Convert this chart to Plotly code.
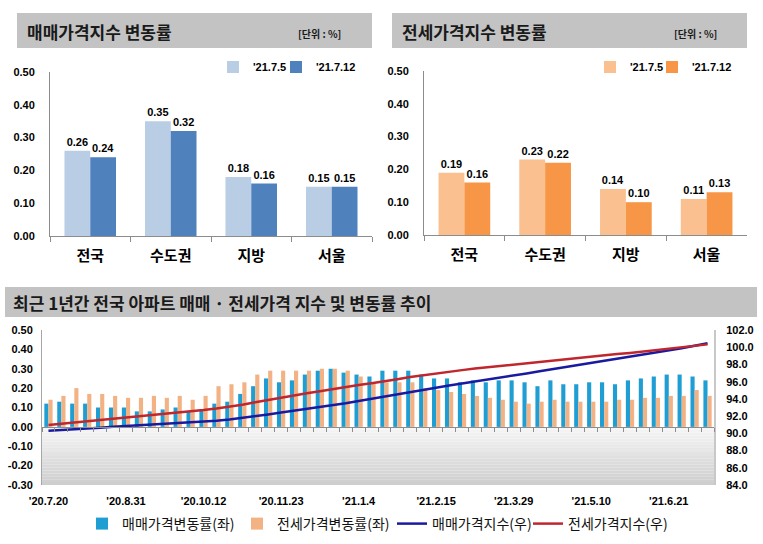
import plotly.graph_objects as go

# ---------------- data ----------------
regions = ["전국", "수도권", "지방", "서울"]
week_prev_label = "'21.7.5"
week_curr_label = "'21.7.12"
sale_prev = [0.26, 0.35, 0.18, 0.15]
sale_curr = [0.24, 0.32, 0.16, 0.15]
jeonse_prev = [0.19, 0.23, 0.14, 0.11]
jeonse_curr = [0.16, 0.22, 0.10, 0.13]

top_ticks = [0.0, 0.1, 0.2, 0.3, 0.4, 0.5]
top_tick_text = ["0.00", "0.10", "0.20", "0.30", "0.40", "0.50"]

weekly_sale_rate = [
    0.12, 0.13, 0.12, 0.12, 0.10, 0.10, 0.10, 0.08, 0.08, 0.09, 0.10, 0.08, 0.09,
    0.12, 0.13, 0.17, 0.21, 0.25, 0.23, 0.24, 0.27, 0.29, 0.30, 0.28, 0.27, 0.26,
    0.29, 0.29, 0.29, 0.27, 0.25, 0.25, 0.23, 0.24, 0.23, 0.24, 0.24, 0.23, 0.21,
    0.24, 0.22, 0.22, 0.23, 0.23, 0.22, 0.24, 0.25, 0.26, 0.27, 0.27, 0.26, 0.24,
]
weekly_jeonse_rate = [
    0.14, 0.16, 0.20, 0.17, 0.17, 0.16, 0.15, 0.15, 0.16, 0.15, 0.16, 0.14, 0.16,
    0.21, 0.22, 0.23, 0.27, 0.29, 0.29, 0.29, 0.29, 0.30, 0.30, 0.29, 0.26, 0.23,
    0.23, 0.23, 0.23, 0.20, 0.19, 0.18, 0.17, 0.16, 0.15, 0.14, 0.13, 0.12, 0.13,
    0.14, 0.13, 0.13, 0.13, 0.13, 0.14, 0.14, 0.15, 0.15, 0.16, 0.16, 0.19, 0.16,
]
sale_index = [
    90.29, 90.36, 90.44, 90.55, 90.66, 90.76, 90.84, 90.92, 91.00, 91.08, 91.16, 91.24, 91.34,
    91.46, 91.60, 91.78, 91.98, 92.20, 92.42, 92.62, 92.82, 93.02, 93.26, 93.50, 93.76, 94.02,
    94.28, 94.56, 94.84, 95.10, 95.34, 95.56, 95.78, 96.00, 96.22, 96.48, 96.74, 96.96, 97.20,
    97.44, 97.66, 97.90, 98.14, 98.38, 98.60, 98.84, 99.08, 99.34, 99.60, 99.88, 100.16, 100.45,
]
jeonse_index = [
    90.98, 91.12, 91.27, 91.42, 91.56, 91.68, 91.80, 91.94, 92.10, 92.24, 92.40, 92.55, 92.70,
    92.88, 93.08, 93.32, 93.60, 93.88, 94.16, 94.44, 94.66, 94.88, 95.14, 95.40, 95.62, 95.82,
    96.02, 96.28, 96.54, 96.76, 96.96, 97.16, 97.34, 97.52, 97.68, 97.84, 97.98, 98.12, 98.28,
    98.44, 98.60, 98.76, 98.92, 99.06, 99.20, 99.34, 99.50, 99.66, 99.82, 99.98, 100.16, 100.33,
]
week_tick_pos = [0, 6, 12, 18, 24, 30, 36, 42, 48]
week_tick_labels = ["'20.7.20", "'20.8.31", "'20.10.12", "'20.11.23", "'21.1.4",
                    "'21.2.15", "'21.3.29", "'21.5.10", "'21.6.21"]
left_ticks = [-0.3, -0.2, -0.1, 0.0, 0.1, 0.2, 0.3, 0.4, 0.5]
left_tick_text = ["-0.30", "-0.20", "-0.10", "0.00", "0.10", "0.20", "0.30", "0.40", "0.50"]
right_ticks = [84, 86, 88, 90, 92, 94, 96, 98, 100, 102]
right_tick_text = ["84.0", "86.0", "88.0", "90.0", "92.0", "94.0", "96.0", "98.0", "100.0", "102.0"]

# ---------------- helpers ----------------
W, H = 763, 544
def px(x): return x / W
def py(y): return 1 - y / H

KR = "Noto Sans CJK KR"
NUM = "Liberation Sans, Arial, sans-serif"
AXC = "#8c8c8c"
weeks = list(range(len(weekly_sale_rate)))

fig = go.Figure()

# top-left: sale rate
for vals, name, col, lw in [(sale_prev, week_prev_label, "#b9cde5", 18),
                            (sale_curr, week_curr_label, "#4f81bd", None)]:
    fig.add_trace(go.Bar(
        x=regions, y=vals, name=name, marker=dict(color=col, line=dict(width=0)),
        xaxis="x", yaxis="y", legend="legend", legendwidth=lw,
        texttemplate="%{y:.2f}", textposition="outside", cliponaxis=False,
        textfont=dict(family=NUM, size=11, color="#000", weight="bold"),
    ))
# top-right: jeonse rate
for vals, name, col, lw in [(jeonse_prev, week_prev_label, "#fac090", 17),
                            (jeonse_curr, week_curr_label, "#f79646", None)]:
    fig.add_trace(go.Bar(
        x=regions, y=vals, name=name, marker=dict(color=col, line=dict(width=0)),
        xaxis="x2", yaxis="y2", legend="legend2", legendwidth=lw,
        texttemplate="%{y:.2f}", textposition="outside", cliponaxis=False,
        textfont=dict(family=NUM, size=11, color="#000", weight="bold"),
    ))

# bottom chart
fig.add_trace(go.Bar(x=weeks, y=weekly_sale_rate, name="매매가격변동률(좌)",
                     marker=dict(color="#1f9ed3", line=dict(width=0)),
                     xaxis="x3", yaxis="y3", legend="legend3", legendwidth=110))
fig.add_trace(go.Bar(x=weeks, y=weekly_jeonse_rate, name="전세가격변동률(좌)",
                     marker=dict(color="#f3b283", line=dict(width=0)),
                     xaxis="x3", yaxis="y3", legend="legend3", legendwidth=110))
fig.add_trace(go.Scatter(x=weeks, y=sale_index, name="매매가격지수(우)", mode="lines",
                         line=dict(color="#1a1aa0", width=2.5),
                         xaxis="x3", yaxis="y4", legend="legend3", legendwidth=91))
fig.add_trace(go.Scatter(x=weeks, y=jeonse_index, name="전세가격지수(우)", mode="lines",
                         line=dict(color="#c0262d", width=2.5),
                         xaxis="x3", yaxis="y4", legend="legend3"))
# empty helper trace so the zero-line tick axis exists
fig.add_trace(go.Scatter(x=[], y=[], xaxis="x4", yaxis="y3", showlegend=False, hoverinfo="skip"))

# ---------------- layout ----------------
y3_dom = [py(485), py(330)]
zero_pos = y3_dom[0] + (0 - (-0.3)) / 0.8 * (y3_dom[1] - y3_dom[0])

numfont = dict(family=NUM, size=11, color="#000", weight="bold")
catfont = dict(family=KR, size=15, color="#000", weight="bold")

fig.update_layout(
    width=W, height=H, margin=dict(l=0, r=0, t=0, b=0, autoexpand=False),
    paper_bgcolor="white", plot_bgcolor="white",
    barmode="group", bargap=0.36, bargroupgap=0,
    showlegend=True,
    xaxis=dict(domain=[px(50), px(372)], anchor="y", type="category", automargin=False,
               showline=True, linecolor=AXC, ticks="outside", ticklen=5, tickcolor=AXC,
               tickson="boundaries", tickfont=catfont, ticklabelstandoff=6),
    yaxis=dict(domain=[py(236), py(72)], anchor="x", range=[0, 0.5], automargin=False,
               tickmode="array", tickvals=top_ticks, ticktext=top_tick_text,
               showline=True, linecolor=AXC, showgrid=False, zeroline=False,
               tickfont=numfont, ticklabelstandoff=12),
    xaxis2=dict(domain=[px(424), px(747)], anchor="y2", type="category", automargin=False,
                showline=True, linecolor=AXC, ticks="outside", ticklen=5, tickcolor=AXC,
                tickson="boundaries", tickfont=catfont, ticklabelstandoff=6),
    yaxis2=dict(domain=[py(235), py(71)], anchor="x2", range=[0, 0.5], automargin=False,
                tickmode="array", tickvals=top_ticks, ticktext=top_tick_text,
                showline=True, linecolor=AXC, showgrid=False, zeroline=False,
                tickfont=numfont, ticklabelstandoff=12),
    xaxis3=dict(domain=[px(42), px(714)], anchor="y3", range=[-0.5, len(weeks) - 0.5],
                automargin=False,
                tickmode="array", tickvals=week_tick_pos, ticktext=week_tick_labels,
                showline=False, showgrid=False, zeroline=False, ticks="",
                tickfont=numfont, ticklabelstandoff=8),
    xaxis4=dict(overlaying="x3", anchor="free", position=zero_pos, side="bottom",
                range=[-0.5, len(weeks) - 0.5], automargin=False,
                tickmode="array", tickvals=[i - 0.5 for i in range(len(weeks) + 1)],
                showticklabels=False, ticks="outside", ticklen=4, tickcolor=AXC,
                showline=True, linecolor=AXC, showgrid=False, zeroline=False),
    yaxis3=dict(domain=y3_dom, anchor="x3", range=[-0.3, 0.5], automargin=False,
                tickmode="array", tickvals=left_ticks, ticktext=left_tick_text,
                showline=True, linecolor="#a6a6a6", showgrid=False, zeroline=False,
                tickfont=numfont, ticklabelstandoff=6),
    yaxis4=dict(overlaying="y3", anchor="x3", side="right", range=[84, 102], automargin=False,
                tickmode="array", tickvals=right_ticks, ticktext=right_tick_text,
                showline=True, linecolor="#c8c8c8", linewidth=2, showgrid=False, zeroline=False,
                tickfont=numfont, ticklabelstandoff=8),
    legend=dict(orientation="h", x=px(213), y=py(67), xanchor="left", yanchor="middle",
                font=dict(family=NUM, size=11, color="#000", weight="bold"),
                bgcolor="rgba(0,0,0,0)", itemwidth=30, traceorder="normal"),
    legend2=dict(orientation="h", x=px(590), y=py(67), xanchor="left", yanchor="middle",
                 font=dict(family=NUM, size=11, color="#000", weight="bold"),
                 bgcolor="rgba(0,0,0,0)", itemwidth=30, traceorder="normal"),
    legend3=dict(orientation="h", x=px(82), y=py(524), xanchor="left", yanchor="middle",
                 font=dict(family=KR, size=14, color="#111"),
                 bgcolor="rgba(0,0,0,0)", itemwidth=30, traceorder="normal"),
)

shapes = []
# gray title boxes
for (x0, y0, x1, y1) in [(17, 13, 372, 48), (392, 13, 747, 48), (5, 287, 757, 317)]:
    shapes.append(dict(type="rect", xref="paper", yref="paper",
                       x0=px(x0), x1=px(x1), y0=py(y1), y1=py(y0),
                       fillcolor="#c3c3c3", line=dict(width=0), layer="below"))
# gradient fill under zero line in bottom chart
nb = 20
for i in range(nb):
    t = i / (nb - 1)
    g = int(246 - 40 * t)
    shapes.append(dict(type="rect", xref="x3 domain", yref="y3",
                       x0=0, x1=1, y0=-0.3 * i / nb, y1=-0.3 * (i + 1) / nb,
                       fillcolor=f"rgb({g},{g},{g})", line=dict(width=0), layer="below"))
fig.update_layout(shapes=shapes)

ann = [
    dict(text="매매가격지수 변동률", x=px(25), y=py(31), xanchor="left", yanchor="middle",
         font=dict(family=KR, size=17, color="#1a1a1a", weight="bold")),
    dict(text="[단위 : %]", x=px(343), y=py(33), xanchor="right", yanchor="middle",
         font=dict(family=KR, size=10, color="#1a1a1a", weight="bold")),
    dict(text="전세가격지수 변동률", x=px(400), y=py(31), xanchor="left", yanchor="middle",
         font=dict(family=KR, size=17, color="#1a1a1a", weight="bold")),
    dict(text="[단위 : %]", x=px(719), y=py(33), xanchor="right", yanchor="middle",
         font=dict(family=KR, size=10, color="#1a1a1a", weight="bold")),
    dict(text="최근 1년간 전국 아파트 매매 · 전세가격 지수 및 변동률 추이", x=px(11), y=py(302),
         xanchor="left", yanchor="middle",
         font=dict(family=KR, size=17, color="#1a1a1a", weight="bold")),
]
for a in ann:
    a.update(xref="paper", yref="paper", showarrow=False)
fig.update_layout(annotations=ann)

fig.write_html(
    "out.html",
    config={"displayModeBar": False},
    post_script="document.body.style.margin='0';document.body.style.padding='0';",
)
